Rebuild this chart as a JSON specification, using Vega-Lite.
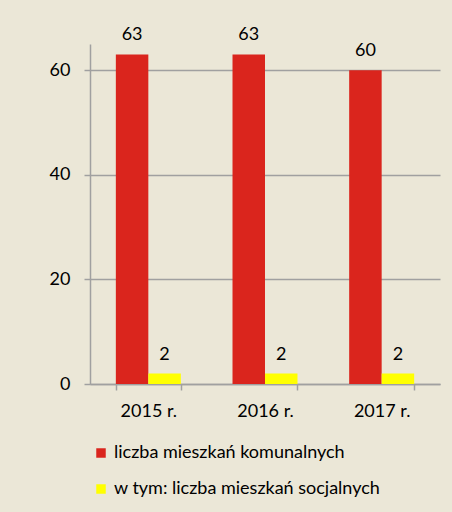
{
  "$schema": "https://vega.github.io/schema/vega-lite/v6.json",
  "autosize": {"type": "none"},
  "width": 350,
  "height": 340,
  "padding": {"left": 90, "top": 44, "right": 12, "bottom": 128},
  "background": "#ebe7d7",
  "data": {
    "values": [
      {"rok": "2015 r.", "seria": "liczba mieszkań komunalnych", "wartosc": 63},
      {"rok": "2015 r.", "seria": "w tym: liczba mieszkań socjalnych", "wartosc": 2},
      {"rok": "2016 r.", "seria": "liczba mieszkań komunalnych", "wartosc": 63},
      {"rok": "2016 r.", "seria": "w tym: liczba mieszkań socjalnych", "wartosc": 2},
      {"rok": "2017 r.", "seria": "liczba mieszkań komunalnych", "wartosc": 60},
      {"rok": "2017 r.", "seria": "w tym: liczba mieszkań socjalnych", "wartosc": 2}
    ]
  },
  "encoding": {
    "x": {
      "field": "rok", "type": "nominal", "title": null,
      "scale": {"paddingInner": 0.443, "paddingOuter": 0.2215},
      "axis": {"labelAngle": 0, "tickBand": "extent", "domainColor": "#a0a0a0", "tickColor": "#a0a0a0", "tickSize": 6, "domainWidth": 1.5, "tickWidth": 1.5, "labelPadding": 12, "labelFontSize": 18, "labelColor": "#000000", "labelFont": "Lato"}
    },
    "xOffset": {"field": "seria", "type": "nominal"},
    "y": {
      "field": "wartosc", "type": "quantitative", "title": null,
      "scale": {"domain": [0, 65], "nice": false},
      "axis": {"values": [0, 20, 40, 60], "grid": true, "gridColor": "#a0a0a0", "gridWidth": 1.5, "domainColor": "#a0a0a0", "domainWidth": 1.5, "tickColor": "#a0a0a0", "tickWidth": 1.5, "tickSize": 6, "labelPadding": 14, "labelFontSize": 18, "labelColor": "#000000", "labelFont": "Lato"}
    }
  },
  "layer": [
    {
      "mark": {"type": "bar"},
      "encoding": {
        "color": {
          "field": "seria", "type": "nominal", "title": null,
          "scale": {"domain": ["liczba mieszkań komunalnych", "w tym: liczba mieszkań socjalnych"], "range": ["#da251d", "#ffff00"]},
          "legend": {"orient": "none", "legendX": 2, "legendY": 400, "direction": "vertical", "symbolType": "square", "symbolSize": 90, "symbolStrokeWidth": 0, "labelFontSize": 18, "labelFont": "Lato", "labelColor": "#000000", "labelLimit": 400, "rowPadding": 18, "labelOffset": 4}
        }
      }
    },
    {
      "mark": {"type": "text", "baseline": "alphabetic", "dy": -14, "fontSize": 18, "font": "Lato", "color": "#000000"},
      "encoding": {"text": {"field": "wartosc", "type": "quantitative"}}
    }
  ],
  "config": {"view": {"stroke": null}}
}
